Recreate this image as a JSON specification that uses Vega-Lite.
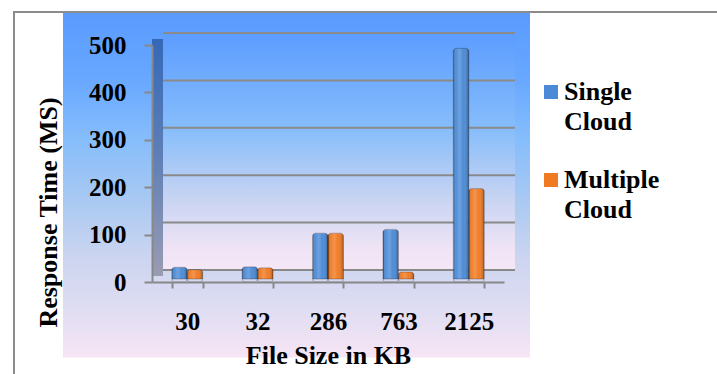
{
  "$schema": "https://vega.github.io/schema/vega-lite/v6.json",
  "width": 704,
  "height": 363,
  "autosize": {"type": "none"},
  "padding": {"left": 13, "top": 11, "right": 0, "bottom": 0},
  "background": "#ffffff",
  "config": {
    "view": {"stroke": null},
    "font": "Liberation Serif",
    "style": {"guide-label": {"lineHeight": 30}}
  },
  "datasets": {
    "responses": [
      {"size": "30", "series": "Single Cloud", "time": 31},
      {"size": "30", "series": "Multiple Cloud", "time": 26},
      {"size": "32", "series": "Single Cloud", "time": 32},
      {"size": "32", "series": "Multiple Cloud", "time": 30},
      {"size": "286", "series": "Single Cloud", "time": 103},
      {"size": "286", "series": "Multiple Cloud", "time": 103},
      {"size": "763", "series": "Single Cloud", "time": 111},
      {"size": "763", "series": "Multiple Cloud", "time": 21},
      {"size": "2125", "series": "Single Cloud", "time": 493},
      {"size": "2125", "series": "Multiple Cloud", "time": 197}
    ],
    "levels": [
      {"level": 0}, {"level": 100}, {"level": 200},
      {"level": 300}, {"level": 400}, {"level": 500}
    ],
    "panel": [{"part": "area"}]
  },
  "data": {"name": "responses"},
  "layer": [
    {
      "data": {"name": "panel"},
      "mark": {
        "type": "rect",
        "fill": {
          "gradient": "linear", "x1": 0, "y1": 0, "x2": 0, "y2": 1,
          "stops": [
            {"offset": 0, "color": "#5a9aff"},
            {"offset": 0.19, "color": "#68a8ff"},
            {"offset": 0.355, "color": "#86bdfb"},
            {"offset": 0.52, "color": "#a9c9f2"},
            {"offset": 0.686, "color": "#cdd5f0"},
            {"offset": 0.8, "color": "#dcdcf2"},
            {"offset": 0.953, "color": "#f6e5f5"},
            {"offset": 0.956, "color": "#ffffff"},
            {"offset": 1, "color": "#ffffff"}
          ]
        }
      },
      "encoding": {}
    },
    {
      "data": {"name": "panel"},
      "mark": {
        "type": "rect",
        "fill": {
          "gradient": "linear", "x1": 0, "y1": 0, "x2": 1, "y2": 0,
          "stops": [
            {"offset": 0, "color": "#8c8c8c"},
            {"offset": 0.0028, "color": "#8c8c8c"},
            {"offset": 0.0028, "color": "#ffffff"},
            {"offset": 0.071, "color": "#ffffff"},
            {"offset": 0.071, "color": "rgba(255,255,255,0)"},
            {"offset": 0.7344, "color": "rgba(255,255,255,0)"},
            {"offset": 0.7344, "color": "#ffffff"},
            {"offset": 1, "color": "#ffffff"}
          ]
        }
      },
      "encoding": {}
    },
    {
      "data": {"name": "panel"},
      "mark": {
        "type": "rect",
        "fill": {
          "gradient": "linear", "x1": 0, "y1": 0, "x2": 0, "y2": 1,
          "stops": [
            {"offset": 0, "color": "#8c8c8c"},
            {"offset": 0.0055, "color": "#8c8c8c"},
            {"offset": 0.0055, "color": "rgba(255,255,255,0)"},
            {"offset": 1, "color": "rgba(255,255,255,0)"}
          ]
        }
      },
      "encoding": {}
    },
    {
      "data": {"name": "panel"},
      "mark": {
        "type": "rect",
        "xOffset": 11, "x2Offset": 11, "yOffset": -12, "y2Offset": -12,
        "fill": {
          "gradient": "linear", "x1": 0, "y1": 0, "x2": 0, "y2": 1,
          "stops": [
            {"offset": 0, "color": "#5c9cff"},
            {"offset": 0.4, "color": "#86bdfb"},
            {"offset": 0.7, "color": "#c8d4f2"},
            {"offset": 0.9, "color": "#eee3f5"},
            {"offset": 1, "color": "#f5e7f6"}
          ]
        }
      },
      "encoding": {
        "x": {"datum": "30", "bandPosition": -0.636},
        "x2": {"datum": "2125", "bandPosition": 1.636},
        "y": {"datum": 500},
        "y2": {"datum": 0}
      }
    },
    {
      "data": {"name": "panel"},
      "mark": {
        "type": "rect",
        "x2Offset": 11, "yOffset": -6, "y2Offset": -6,
        "fill": {
          "gradient": "linear", "x1": 0, "y1": 0, "x2": 0, "y2": 1,
          "stops": [
            {"offset": 0, "color": "#3568b8"},
            {"offset": 0.5, "color": "#5f7fb6"},
            {"offset": 1, "color": "#9a9cb2"}
          ]
        }
      },
      "encoding": {
        "x": {"datum": "30", "bandPosition": -0.636},
        "x2": {"datum": "30", "bandPosition": -0.636},
        "y": {"datum": 500},
        "y2": {"datum": 0}
      }
    },
    {
      "data": {"name": "levels"},
      "mark": {
        "type": "rule",
        "color": "#8a8a8a", "strokeWidth": 2,
        "xOffset": 11, "x2Offset": 11, "yOffset": -12
      },
      "encoding": {
        "x": {"datum": "30", "bandPosition": -0.636},
        "x2": {"datum": "2125", "bandPosition": 1.636},
        "y": {"field": "level", "type": "quantitative"}
      }
    },
    {
      "mark": {"type": "bar", "yOffset": -3, "y2Offset": -3, "cornerRadius": 3},
      "encoding": {
        "x": {
          "field": "size", "type": "ordinal",
          "scale": {
            "domain": ["30", "32", "286", "763", "2125"],
            "range": [139, 491],
            "paddingInner": 0.56,
            "paddingOuter": 0.28
          },
          "axis": {
            "title": "File Size in KB",
            "labelAngle": 0,
            "labelAlign": "center",
            "domainColor": "#888888", "domainWidth": 2,
            "tickColor": "#888888", "tickWidth": 2, "tickSize": 6,
            "tickBand": "extent",
            "labelFontSize": 25, "labelFontWeight": "bold", "labelColor": "#000000",
            "labelPadding": 33,
            "offset": -92,
            "zindex": 1,
            "titleFontSize": 26, "titleFontWeight": "bold", "titleColor": "#000000",
            "titlePadding": 8
          }
        },
        "xOffset": {
          "field": "series", "type": "nominal",
          "scale": {"domain": ["Single Cloud", "Multiple Cloud"]}
        },
        "y": {
          "field": "time", "type": "quantitative",
          "scale": {"domain": [0, 500], "range": [271, 34], "nice": false},
          "axis": {
            "title": "Response Time (MS)",
            "values": [0, 100, 200, 300, 400, 500],
            "grid": false,
            "domainColor": "#888888", "domainWidth": 2,
            "tickColor": "#888888", "tickWidth": 2, "tickSize": 8,
            "labelFontSize": 25, "labelFontWeight": "bold", "labelColor": "#000000",
            "labelPadding": 18,
            "offset": -139,
            "zindex": 1,
            "titleFontSize": 26, "titleFontWeight": "bold", "titleColor": "#000000",
            "titleX": -104, "titleY": 201, "titleAngle": -90,
            "titleAlign": "center", "titleBaseline": "middle"
          }
        },
        "color": {
          "field": "series", "type": "nominal",
          "scale": {
            "domain": ["Single Cloud", "Multiple Cloud"],
            "range": ["#4a8ad6", "#f07a22"]
          },
          "legend": {
            "title": null,
            "orient": "none",
            "legendX": 525,
            "legendY": 68,
            "padding": 0,
            "symbolType": "square",
            "symbolSize": 196,
            "symbolStrokeWidth": 0,
            "symbolOpacity": 1,
            "labelFontSize": 26, "labelFontWeight": "bold", "labelColor": "#000000",
            "labelOffset": 0,
            "labelLimit": 0,
            "labelExpr": "split(datum.label, ' ')",
            "rowPadding": 32
          }
        }
      }
    },
    {
      "mark": {
        "type": "bar", "yOffset": -3, "y2Offset": -3, "cornerRadius": 3,
        "stroke": "rgba(0,0,0,0.3)", "strokeWidth": 0.8,
        "fill": {
          "gradient": "linear", "x1": 0, "y1": 0, "x2": 1, "y2": 0,
          "stops": [
            {"offset": 0, "color": "rgba(0,0,0,0.32)"},
            {"offset": 0.2, "color": "rgba(255,255,255,0.06)"},
            {"offset": 0.4, "color": "rgba(255,255,255,0.2)"},
            {"offset": 0.65, "color": "rgba(255,255,255,0.02)"},
            {"offset": 1, "color": "rgba(0,0,0,0.32)"}
          ]
        }
      },
      "encoding": {
        "x": {"field": "size", "type": "ordinal"},
        "xOffset": {"field": "series", "type": "nominal"},
        "y": {"field": "time", "type": "quantitative"}
      }
    }
  ]
}
